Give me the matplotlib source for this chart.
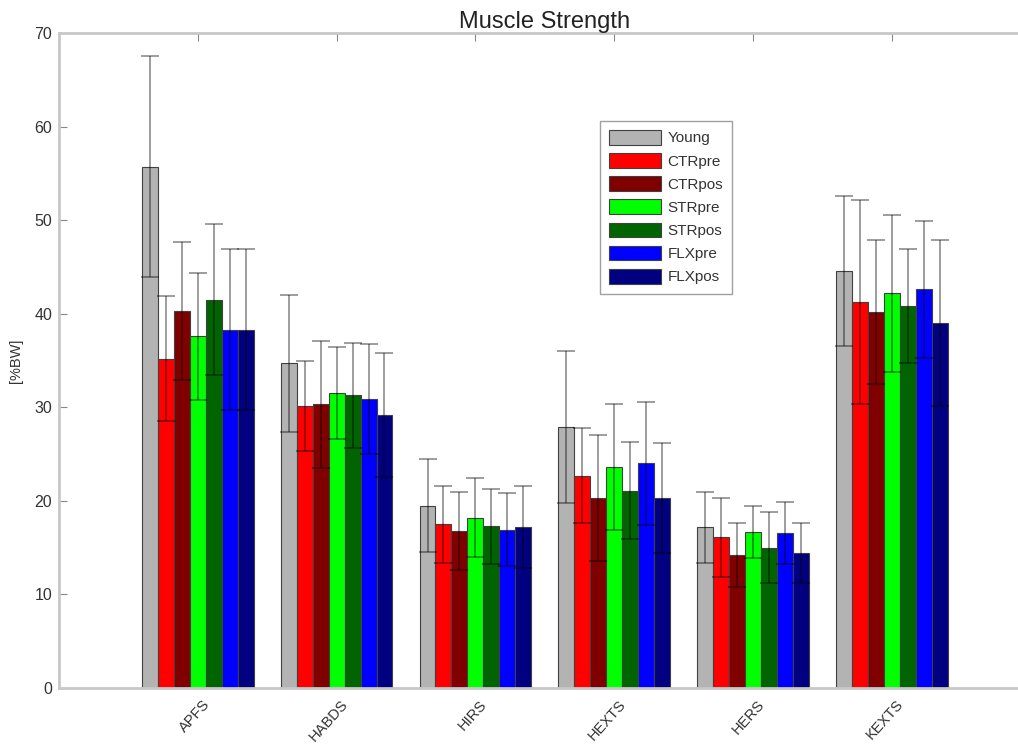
import matplotlib
matplotlib.use("Agg")
import matplotlib.pyplot as plt
import numpy as np

plt.rcParams['font.family'] = ['Liberation Sans', 'DejaVu Sans']

categories = ["APFS", "HABDS", "HIRS", "HEXTS", "HERS", "KEXTS"]
groups = ["Young", "CTRpre", "CTRpos", "STRpre", "STRpos", "FLXpre", "FLXpos"]
colors = ["#b3b3b3", "#ff0000", "#800000", "#00ff00", "#006400", "#0000ff", "#000080"]

young  = [55.7, 34.7, 19.5, 27.9, 17.2, 44.6]
ctrpre = [35.2, 30.1, 17.5, 22.7, 16.1, 41.3]
ctrpos = [40.3, 30.3, 16.8, 20.3, 14.2, 40.2]
strpre = [37.6, 31.5, 18.2, 23.6, 16.7, 42.2]
strpos = [41.5, 31.3, 17.3, 21.1, 15.0, 40.8]
flxpre = [38.3, 30.9, 16.9, 24.0, 16.6, 42.6]
flxpos = [38.3, 29.2, 17.2, 20.3, 14.4, 39.0]

young_sd  = [11.8, 7.3, 5.0, 8.1, 3.8, 8.0]
ctrpre_sd = [6.7, 4.8, 4.1, 5.1, 4.2, 10.9]
ctrpos_sd = [7.4, 6.8, 4.2, 6.7, 3.4, 7.7]
strpre_sd = [6.8, 4.9, 4.2, 6.7, 2.8, 8.4]
strpos_sd = [8.1, 5.6, 4.0, 5.2, 3.8, 6.1]
flxpre_sd = [8.6, 5.9, 3.9, 6.6, 3.3, 7.3]
flxpos_sd = [8.6, 6.6, 4.4, 5.9, 3.2, 8.9]

means = [young, ctrpre, ctrpos, strpre, strpos, flxpre, flxpos]
sds = [young_sd, ctrpre_sd, ctrpos_sd, strpre_sd, strpos_sd, flxpre_sd, flxpos_sd]

W, H = 1018, 744
fig = plt.figure(figsize=(W / 100, H / 100), dpi=100)
left_px, right_px, top_px, bot_px = 59, 59 + 7 * 138.8, 33, 688
ax = fig.add_axes([left_px / W, 1 - bot_px / H, (right_px - left_px) / W, (bot_px - top_px) / H])

x = np.arange(1, len(categories) + 1)
n = len(groups)
bw = 0.115
for i in range(n):
    pos = x + (i - (n - 1) / 2) * bw
    ax.bar(pos, means[i], width=bw, color=colors[i], edgecolor="#404040",
           linewidth=0.8, label=groups[i], zorder=2)
    ax.errorbar(pos, means[i], yerr=sds[i], fmt='none', ecolor='black',
                elinewidth=1.2, capsize=6.5, capthick=1.2, alpha=0.45, zorder=3)

ax.set_xlim(0, 7)
ax.set_ylim(0, 70)
ax.set_yticks(range(0, 71, 10))
ax.set_xticks(x)
ax.set_xticklabels([])
for xi, lab in zip(x, categories):
    ax.text(xi + 0.03, -1.0, lab, rotation=48, ha='right', va='top',
            rotation_mode='anchor', fontsize=10.5, color='#333333')

for s in ax.spines.values():
    s.set_color('#c8c8c8')
    s.set_linewidth(2)
ax.tick_params(axis='both', direction='in', length=6, color='#888888',
               top=True, right=True, labelsize=11.5, labelcolor='#333333', width=0.8,
               pad=5)

ax.set_ylabel('[%BW]', fontsize=10.5, color='#333333', labelpad=8)
ax.set_title('Muscle Strength', fontsize=17, color='#222222', pad=3)

leg = ax.legend(loc='upper left', bbox_to_anchor=(0.557, 0.866), fontsize=11,
                handlelength=3.4, handleheight=1.1, labelspacing=0.5,
                handletextpad=0.4, borderpad=0.6, borderaxespad=0.0,
                frameon=True, fancybox=False)
leg.get_frame().set_edgecolor('#888888')
leg.get_frame().set_linewidth(1.0)
for t in leg.get_texts():
    t.set_color('#333333')

fig.savefig('out.png', dpi=100)
